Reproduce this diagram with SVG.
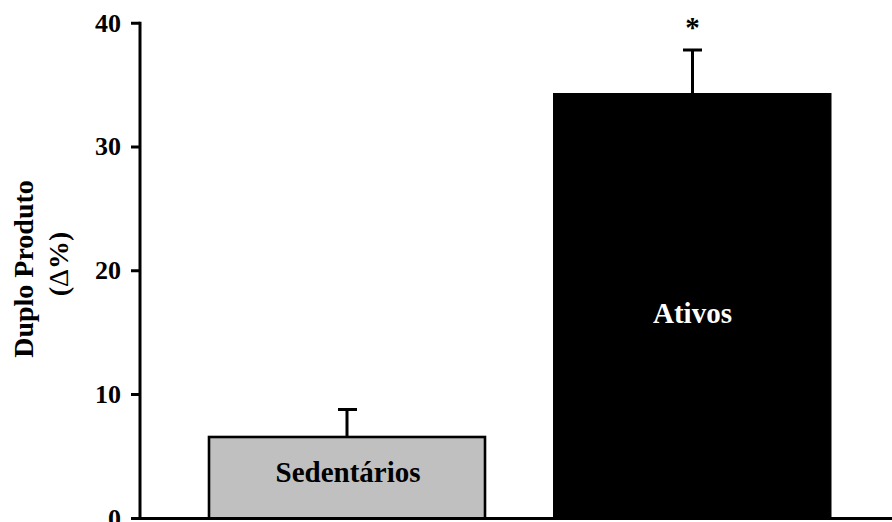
<svg xmlns="http://www.w3.org/2000/svg" width="892" height="522" viewBox="0 0 892 522">
  <style>
    .axis { stroke: #000; stroke-width: 3; fill: none; }
    .err { stroke: #000; stroke-width: 3; fill: none; }
    .tick { font-family: "Liberation Serif", "Times New Roman", serif; font-weight: bold; font-size: 26px; fill: #000; text-anchor: end; }
    .lbl { font-family: "Liberation Serif", "Times New Roman", serif; font-weight: bold; font-size: 29px; text-anchor: middle; }
    .ttl { font-family: "Liberation Serif", "Times New Roman", serif; font-weight: bold; font-size: 28px; text-anchor: middle; fill: #000; }
  </style>
  <rect width="892" height="522" fill="#fff"/>

  <!-- bars -->
  <g id="bar-sedentarios">
    <rect x="209" y="437" width="276" height="81.5" fill="#c0c0c0" stroke="#000" stroke-width="2.6"/>
    <text class="lbl" x="348" y="481.5" fill="#000">Sedentários</text>
  </g>
  <g id="bar-ativos">
    <rect x="553.5" y="93.5" width="277.5" height="425" fill="#000" stroke="#000" stroke-width="1"/>
    <text class="lbl" x="692.5" y="323" fill="#fff">Ativos</text>
  </g>

  <!-- error bars and significance mark -->
  <g id="error-bars">
    <path class="err" d="M347 437V409.5M338 409.5H357"/>
    <path class="err" d="M692.5 93V50M683 50H702"/>
    <text class="lbl" x="692.5" y="37" fill="#000" font-size="32">*</text>
  </g>

  <!-- axes -->
  <g id="axes">
    <path class="axis" d="M140 21.7V518.5M131 518.5H892"/>
    <path class="axis" d="M131 23.2H140M131 147H140M131 270.8H140M131 394.6H140"/>
    <text class="tick" x="121" y="31.5">40</text>
    <text class="tick" x="121" y="155.3">30</text>
    <text class="tick" x="121" y="279.1">20</text>
    <text class="tick" x="121" y="402.9">10</text>
    <text class="tick" x="121" y="526.7">0</text>
  </g>

  <!-- y axis title -->
  <g id="y-title">
    <text class="ttl" transform="translate(33,269) rotate(-90)">Duplo Produto</text>
    <text class="ttl" transform="translate(68,264) rotate(-90)">(<tspan font-weight="normal">Δ</tspan>%)</text>
  </g>
</svg>
